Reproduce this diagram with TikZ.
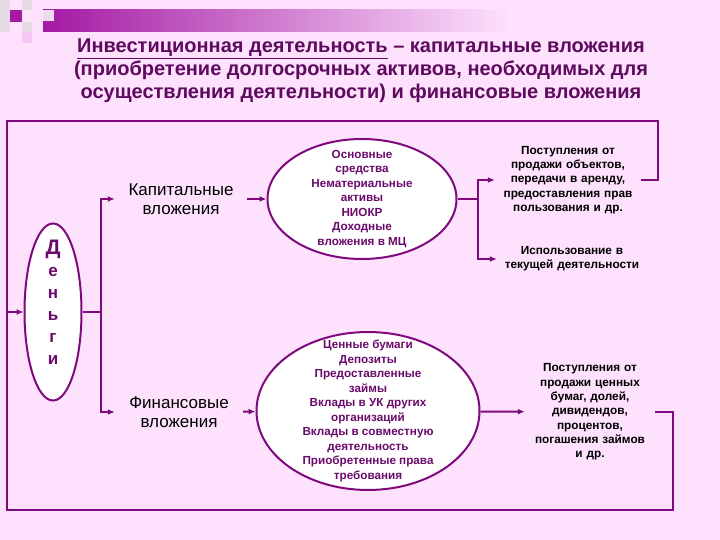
\documentclass[tikz,border=0pt]{standalone}
\usepackage{fontspec}
\setmainfont{Liberation Sans}
\usetikzlibrary{arrows.meta,shapes.geometric}
\definecolor{bgpink}{HTML}{FDE1FD}
\definecolor{linepurple}{HTML}{7E0A7E}
\definecolor{titlepurple}{HTML}{5E0A5E}
\definecolor{textpurple}{HTML}{6A0A6A}
\definecolor{barpurple}{HTML}{A31AA3}
\definecolor{squaregrey}{HTML}{E6DAE6}
\definecolor{squarepink}{HTML}{F6C6F6}

\begin{document}
\begin{tikzpicture}[>={Latex[length=7pt,width=6pt]}, x=1pt, y=-1pt]
        \tikzset{line/.style={draw=linepurple, line width=2pt},
        oval/.style={draw=linepurple, line width=2pt, fill=white, shape=ellipse, align=center, text=textpurple, inner xsep=0pt,
        font=\bfseries\fontsize{11.7}{14.5}\selectfont},
        txt/.style={align=center, inner sep=0pt, font=\fontsize{17}{19.5}\selectfont},
        note/.style={align=center, inner sep=0pt, font=\bfseries\fontsize{11.8}{14.3}\selectfont}
        }
%% background and corner pattern
        \fill[bgpink] (0,0) rectangle (720,540);
        \fill[squaregrey] (0,0) rectangle (10,32);
        \fill[squaregrey] (22,0) rectangle (32,10);
        \fill[squaregrey] (22,22) rectangle (32,32);
        \fill[squarepink] (22,32) rectangle (32,43);
        \fill[barpurple] (10,10) rectangle (22,22);
        \shade[left color=barpurple, right color=bgpink] (43,10) rectangle (510,32);
        \fill[squaregrey!70!bgpink] (43,10) rectangle (54,21);
%% title
        \node [text=titlepurple, align=center, font=\bfseries\fontsize{20}{23}\selectfont] (title) at (361,71)
        {\underline{Инвестиционная деятельность} – капитальные вложения\\
        (приобретение долгосрочных активов, необходимых для\\
        осуществления деятельности) и финансовые вложения};
%% nodes
        \node [oval, minimum width=57pt, minimum height=177pt, inner ysep=-15pt, text depth=20pt,
        font=\bfseries\fontsize{17}{22}\selectfont] (money) at (53,312)
        {{\fontsize{21}{22}\selectfont Д}\\е\\н\\ь\\г\\и};
        \node [txt, text width=132pt] (capital) at (181,199) {Капитальные\\вложения};
        \node [txt, text width=128pt] (financial) at (179,412) {Финансовые\\вложения};
        \node [oval, minimum width=189pt, minimum height=120pt, inner ysep=-10pt] (fixed) at (362,199)
        {Основные\\средства\\Нематериальные\\активы\\НИОКР\\Доходные\\вложения в МЦ};
        \node [oval, minimum width=223pt, minimum height=158pt, inner ysep=-18pt] (securities) at (368,411)
        {Ценные бумаги\\Депозиты\\Предоставленные\\займы\\Вклады в УК других\\организаций\\Вклады в совместную\\деятельность\\Приобретенные права\\требования};
        \node [note, text width=146pt] (proceeds) at (568,180)
        {Поступления от\\продажи объектов,\\передачи в аренду,\\предоставления прав\\пользования и др.};
        \node [note, text width=150pt] (usage) at (572,259) {Использование в\\текущей деятельности};
        \node [note, text width=130pt] (income) at (590,412)
        {Поступления от\\продажи ценных\\бумаг, долей,\\дивидендов,\\процентов,\\погашения займов\\и др.};
%% frame corners
        \coordinate (tl) at (7,121);
        \coordinate (tr) at (658,121);
        \coordinate (bl) at (7,510);
        \coordinate (br) at (673,510);
%% paths
        \path[line] (income.east) -| (br) -- (bl) -- (tl) -- (tr) |- (proceeds.east);
        \path[line,->] (tl |- money.west) -- (money.west);
        \path[line] (money.east) -- ++(18,0) coordinate (split1);
        \path[line,->] (split1) |- (capital.west);
        \path[line,->] (split1) |- (financial.west);
        \path[line] (fixed.east) -- ++(20,0) coordinate (split2);
        \path[line,->] (split2) |- (proceeds.west);
        \path[line,->] (split2) |- (usage.west);
        \path[line,->] (capital) edge (fixed)
                    (financial) edge (securities)
                    (securities) edge (income)
                    ;
    \end{tikzpicture}
\end{document}
